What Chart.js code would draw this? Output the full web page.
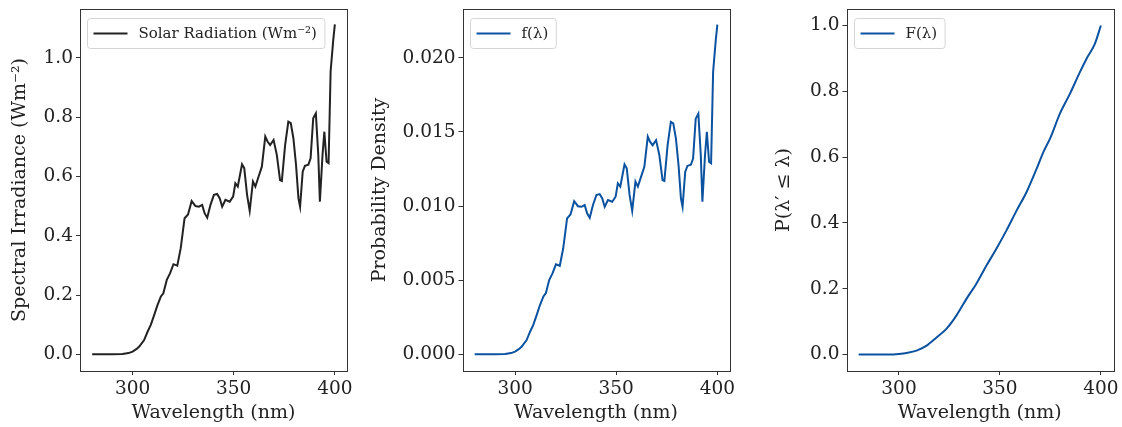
<!DOCTYPE html>
<html>
<head>
<meta charset="utf-8">
<script src="https://cdn.jsdelivr.net/npm/chart.js@4.4.1/dist/chart.umd.min.js"></script>
<style>
  html, body { margin: 0; padding: 0; background: #fff; }
  #wrap { position: relative; width: 1122px; height: 427px; }
  .panel { position: absolute; top: 0; }
</style>
</head>
<body>
<div id="wrap">
  <div class="panel" style="left:0px"><canvas id="c1" width="355" height="427"></canvas></div>
  <div class="panel" style="left:360px"><canvas id="c2" width="375" height="427"></canvas></div>
  <div class="panel" style="left:764px"><canvas id="c3" width="358" height="427"></canvas></div>
</div>
<script>
/* ---------- data ---------- */
const wavelength = [280, 285, 290, 295, 298, 300, 302, 303.3, 305.7, 307.4, 309, 310.7, 312.3, 314, 315.2,
  316.9, 318.5, 320.2, 322.1, 323.8, 325.7, 327.4, 329.2, 331.1, 332.8, 334.4, 335.6, 336.9, 338.5, 340.2,
  341.8, 343.1, 344.3, 345.9, 348, 349.7, 350.8, 352, 354.1, 355.2, 356.6, 357.9, 359.5, 360.7, 362.3,
  363.9, 365.6, 366.7, 368, 369.7, 371.3, 372.9, 373.8, 375.4, 377, 378.2, 379.5, 380.8, 382, 382.8,
  384.1, 385.2, 386.9, 388, 389.3, 390.6, 391.8, 392.6, 393.9, 394.8, 395.9, 396.9, 397.9, 399.2, 400];

// spectral irradiance (W m^-2)
const irradiance = [0, 0, 0, 0.001, 0.004, 0.009, 0.018, 0.026, 0.048, 0.076, 0.099, 0.133, 0.166, 0.195, 0.206,
  0.251, 0.273, 0.304, 0.299, 0.358, 0.459, 0.472, 0.517, 0.500, 0.498, 0.504, 0.476, 0.461, 0.504, 0.538,
  0.541, 0.526, 0.498, 0.521, 0.515, 0.532, 0.577, 0.566, 0.641, 0.628, 0.538, 0.484, 0.583, 0.566, 0.600,
  0.633, 0.735, 0.718, 0.706, 0.723, 0.673, 0.588, 0.585, 0.706, 0.785, 0.780, 0.729, 0.639, 0.526, 0.498,
  0.616, 0.636, 0.640, 0.661, 0.796, 0.813, 0.673, 0.515, 0.673, 0.751, 0.650, 0.645, 0.954, 1.060, 1.113];

// probability density f(λ)
const density = [0, 0, 0, 0.00002, 0.00008, 0.00018, 0.00036, 0.00052, 0.00096, 0.00152, 0.00198, 0.00266, 0.00332, 0.00390, 0.00412,
  0.00502, 0.00546, 0.00607, 0.00597, 0.00715, 0.00917, 0.00943, 0.01033, 0.00999, 0.00995, 0.01007, 0.00951, 0.00921, 0.01007, 0.01075,
  0.01081, 0.01051, 0.00995, 0.01041, 0.01029, 0.01063, 0.01153, 0.01131, 0.01281, 0.01255, 0.01075, 0.00967, 0.01165, 0.01131, 0.01199,
  0.01265, 0.01469, 0.01435, 0.01411, 0.01445, 0.01345, 0.01175, 0.01169, 0.01411, 0.01568, 0.01558, 0.01457, 0.01277, 0.01051, 0.00995,
  0.01231, 0.01271, 0.01279, 0.01321, 0.01590, 0.01624, 0.01345, 0.01029, 0.01345, 0.01501, 0.01299, 0.01289, 0.01906, 0.02118, 0.02224];

// cumulative F(λ)
const cdfWavelength = [280, 290, 295, 300, 303.8, 308.7, 313.7, 318.6, 323.6, 328.5, 333.5, 338.4, 343.4, 348.3,
  353.3, 358.3, 363.2, 368.2, 371.5, 374.8, 379.7, 384.7, 389.6, 392.9, 397, 400];
const cdf = [0, 0, 0, 0.002, 0.005, 0.012, 0.027, 0.052, 0.079, 0.119, 0.170, 0.216, 0.271, 0.322,
  0.378, 0.438, 0.494, 0.565, 0.615, 0.656, 0.732, 0.793, 0.858, 0.899, 0.944, 1.0];

const xTicks = [300, 350, 400];
const irrTicks = [0, 0.2, 0.4, 0.6, 0.8, 1.0];
const densTicks = [0, 0.005, 0.01, 0.015, 0.02];
const cdfTicks = [0, 0.2, 0.4, 0.6, 0.8, 1.0];

/* ---------- styling ---------- */
const FONT = '"DejaVu Serif", serif';
const INK = "#222222";
const SPINE = "#333333";
const BLUE = "#0b52a0";

// matplotlib-like legend box in the upper left of the axes
const mplLegend = {
  id: "mplLegend",
  afterDatasetsDraw(chart, args, opts) {
    const { ctx, chartArea: a } = chart;
    ctx.save();
    ctx.font = "15px " + FONT;
    const tw = ctx.measureText(opts.label).width;
    const bx = Math.round(a.left + 7) + 0.5, by = Math.round(a.top + 9) + 0.5, bh = 30;
    const lineX = bx + 6, textX = lineX + 34 + 11;
    const bw = textX + tw + 8 - bx;
    ctx.beginPath();
    ctx.roundRect(bx, by, bw, bh, 3);
    ctx.fillStyle = "rgba(255,255,255,0.8)";
    ctx.fill();
    ctx.strokeStyle = "#d4d4d4";
    ctx.lineWidth = 1;
    ctx.stroke();
    ctx.beginPath();
    ctx.moveTo(lineX, by + bh / 2);
    ctx.lineTo(lineX + 34, by + bh / 2);
    ctx.strokeStyle = opts.color;
    ctx.lineWidth = 2;
    ctx.stroke();
    ctx.fillStyle = INK;
    ctx.textBaseline = "middle";
    ctx.fillText(opts.label, textX, by + bh / 2 + 1);
    ctx.restore();
  },
};

// all four spines
const frame = {
  id: "frame",
  afterDraw(chart) {
    const { ctx, chartArea: a } = chart;
    ctx.save();
    ctx.strokeStyle = SPINE;
    ctx.lineWidth = 1;
    ctx.strokeRect(Math.round(a.left) + 0.5, Math.round(a.top) + 0.5,
      Math.round(a.right - a.left), Math.round(a.bottom - a.top));
    ctx.restore();
  },
};

const makePanel = (id, xs, ys, cfg) => {
  return new Chart(document.getElementById(id), {
    type: "line",
    plugins: [mplLegend, frame],
    data: {
      datasets: [{
        data: xs.map((x, i) => ({ x: x, y: ys[i] })),
        borderColor: cfg.color,
        borderWidth: 2,
        pointRadius: 0,
        tension: 0,
        cubicInterpolationMode: cfg.smooth ? "monotone" : "default",
        fill: false,
      }],
    },
    options: {
      responsive: false,
      animation: false,
      layout: { padding: { top: 9, right: cfg.padRight, left: 0, bottom: 0 } },
      plugins: {
        legend: { display: false },
        tooltip: { enabled: false },
        mplLegend: { label: cfg.label, color: cfg.color },
      },
      scales: {
        x: {
          type: "linear",
          min: 274,
          max: 406,
          afterBuildTicks: (s) => { s.ticks = xTicks.map((v) => ({ value: v })); },
          afterFit: (s) => { s.height = 56; s.paddingLeft = 0; s.paddingRight = 0; },
          ticks: { font: { family: FONT, size: 18.5 }, color: INK, padding: 3, maxRotation: 0,
            callback: (v) => String(v) },
          grid: { drawOnChartArea: false, tickLength: 4, color: SPINE },
          border: { display: false },
          title: { display: true, text: "Wavelength (nm)", color: INK,
            font: { family: FONT, size: 19 }, padding: { top: 0, bottom: 3 } },
        },
        y: {
          min: cfg.yMin,
          max: cfg.yMax,
          afterBuildTicks: (s) => { s.ticks = cfg.yTicks.map((v) => ({ value: v })); },
          afterFit: (s) => { s.width = cfg.axisW; s.paddingTop = 0; s.paddingBottom = 0; },
          ticks: { font: { family: FONT, size: 18.5 }, color: INK, padding: 3,
            callback: (v) => v.toFixed(cfg.decimals) },
          grid: { drawOnChartArea: false, tickLength: 4, color: SPINE },
          border: { display: false },
          title: { display: true, text: cfg.yTitle, color: INK,
            font: { family: FONT, size: 19 }, padding: { top: 8.6, bottom: 0 } },
        },
      },
    },
  });
};

makePanel("c1", wavelength, irradiance, {
  color: "#222222", label: "Solar Radiation (Wm\u207B\u00B2)", yTitle: "Spectral Irradiance (Wm\u207B\u00B2)",
  yTicks: irrTicks, decimals: 1, yMin: -0.0564, yMax: 1.165, axisW: 80, padRight: 8,
});
makePanel("c2", wavelength, density, {
  color: BLUE, label: "f(\u03BB)", yTitle: "Probability Density",
  yTicks: densTicks, decimals: 3, yMin: -0.00113, yMax: 0.0233, axisW: 102.5, padRight: 5.5,
});
makePanel("c3", cdfWavelength, cdf, {
  color: BLUE, label: "F(\u03BB)", yTitle: "P(\u03BB\u2032 \u2264 \u03BB)", smooth: true,
  yTicks: cdfTicks, decimals: 1, yMin: -0.05, yMax: 1.05, axisW: 82.5, padRight: 9,
});
</script>
</body>
</html>
